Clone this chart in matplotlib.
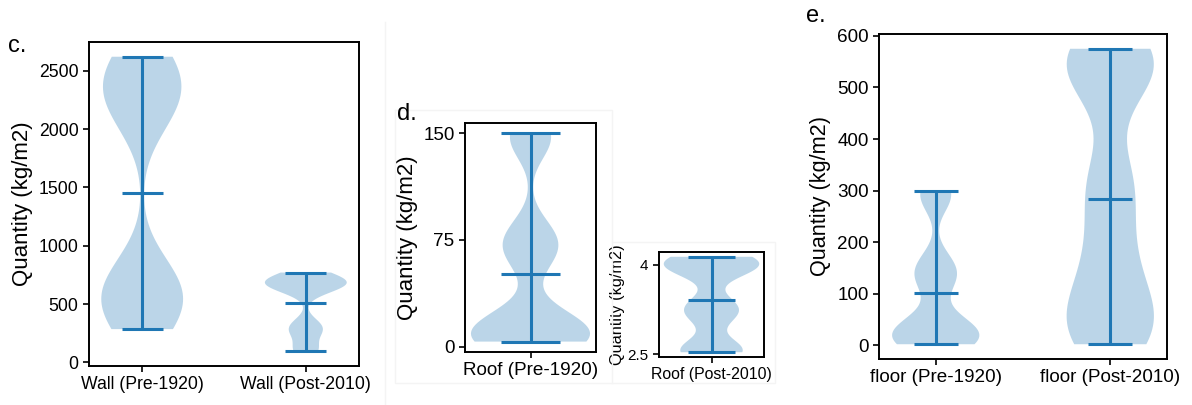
import matplotlib
matplotlib.use("Agg")
import matplotlib.pyplot as plt
from matplotlib.lines import Line2D

plt.rcParams["font.family"] = ["Liberation Sans", "DejaVu Sans"]

# --- data ---
wall_labels = ["Wall (Pre-1920)", "Wall (Post-2010)"]
wall_pre = [285, 450, 550, 650, 745, 2100, 2250, 2350, 2500, 2620]
wall_post = [95, 120, 260, 290, 330, 620, 650, 670, 680, 690, 700, 720, 770]

roof_pre_label = ["Roof (Pre-1920)"]
roof_pre = [3.5, 5, 7, 10, 12, 18, 62, 72, 80, 145, 150]

roof_post_label = ["Roof (Post-2010)"]
roof_post = [2.53, 2.55, 2.6, 3.1, 3.25, 3.35, 3.9, 3.95, 4.0, 4.08, 4.13]

floor_labels = ["floor (Pre-1920)", "floor (Post-2010)"]
floor_pre = [2, 8, 15, 20, 30, 45, 120, 140, 160, 285, 300]
floor_post = [2, 15, 40, 70, 110, 160, 230, 300, 340, 490, 530, 555, 565, 575]

W, H = 1192, 405
fig = plt.figure(figsize=(W / 100, H / 100), dpi=100)


def px_axes(x0, y0, x1, y1):
    return fig.add_axes([x0 / W, 1 - y1 / H, (x1 - x0) / W, (y1 - y0) / H])


def violin(ax, data, labels, bw=0.3, tick_fs=13, ylab_fs=16):
    parts = ax.violinplot(data, showmeans=True, bw_method=bw)
    for key in ("cbars", "cmins", "cmaxes", "cmeans"):
        parts[key].set_linewidth(2.2)
    ax.set_xticks(range(1, len(labels) + 1))
    ax.set_xticklabels(labels, fontsize=tick_fs)
    ax.tick_params(axis="y", labelsize=tick_fs, length=4, width=1.2)
    ax.tick_params(axis="x", length=4, width=1.2)
    for s in ax.spines.values():
        s.set_linewidth(1.4)
    ax.set_ylabel("Quantity (kg/m2)", fontsize=ylab_fs)
    return parts


# faint screenshot borders
for xs, ys in [([385, 385], [22, 405]),
               ([395, 612, 612, 775, 775, 395, 395], [110, 110, 242, 242, 383, 383, 110]),
               ([612, 612], [242, 383])]:
    fig.add_artist(Line2D([x / W for x in xs], [1 - y / H for y in ys],
                          color="#f4f4f4", lw=1))

# panel c
ax_c = px_axes(89, 42, 359, 366)
violin(ax_c, [wall_pre, wall_post], wall_labels, bw=0.3, tick_fs=12.7, ylab_fs=16)
fig.text(8 / W, 1 - 52 / H, "c.", fontsize=17)

# panel d
ax_d = px_axes(465, 123, 596, 352)
violin(ax_d, [roof_pre], roof_pre_label, bw=0.27, tick_fs=13.6, ylab_fs=16)
ax_d.set_yticks([0, 75, 150])
fig.text(397 / W, 1 - 120 / H, "d.", fontsize=17)

# inset (roof post-2010)
ax_i = px_axes(659, 252, 764, 357)
violin(ax_i, [roof_post], roof_post_label, bw=0.3, tick_fs=11.4, ylab_fs=11.7)
ax_i.set_yticks([2.5, 4])
ax_i.set_yticklabels(["2.5", "4"], fontsize=11)
ax_i.yaxis.labelpad = 2

# panel e
ax_e = px_axes(879, 34, 1167, 359)
violin(ax_e, [floor_pre, floor_post], floor_labels, bw=0.3, tick_fs=13.6, ylab_fs=15.6)
fig.text(806 / W, 1 - 22 / H, "e.", fontsize=17)

fig.savefig("out.png", dpi=100, facecolor="white")
